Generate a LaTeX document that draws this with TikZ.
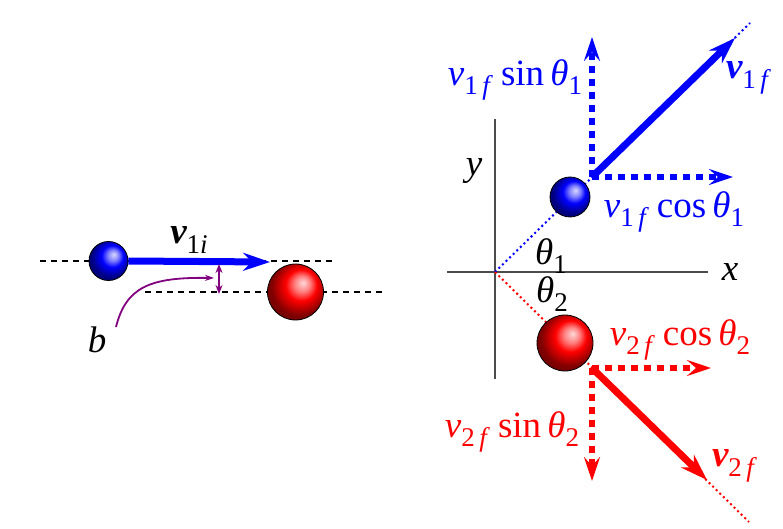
\documentclass[tikz,border=0pt]{standalone}
\usepackage{xcolor}
\usepackage{fontspec}
\setmainfont{Liberation Serif}
\usetikzlibrary{arrows.meta}
\definecolor{impact}{rgb}{.5,0,.5}
\pgfdeclareradialshading{blueball}{\pgfpoint{7bp}{8.5bp}}{color(0bp)=(white!85!blue); color(7bp)=(blue!50!white); color(14bp)=(blue); color(25bp)=(blue!50!black); color(35bp)=(blue!40!black); color(50bp)=(blue!40!black)}
\pgfdeclareradialshading{redball}{\pgfpoint{7bp}{8.5bp}}{color(0bp)=(white!85!red); color(7bp)=(red!50!white); color(14bp)=(red); color(25bp)=(red!50!black); color(35bp)=(red!40!black); color(50bp)=(red!40!black)}
\newcommand{\subs}[1]{\raisebox{-.26em}{\fontsize{27}{27}\selectfont #1}}
\newcommand{\vel}[1]{{\itshape v}\subs{#1}}
\newcommand{\bvel}[1]{{\bfseries\itshape v}\subs{#1}}
\newcommand{\tht}[1]{{\itshape θ}\subs{#1}}
\tikzset{
    lab/.style={inner sep=0pt,font=\fontsize{37}{37}\selectfont},
    sball/.style={circle,draw=black,line width=.8pt,inner sep=0pt,minimum size=39pt},
    lball/.style={circle,draw=black,line width=.8pt,inner sep=0pt,minimum size=56pt},
    guide/.style={dash pattern=on 6pt off 5pt,line width=2pt},
    track/.style={line width=2pt,dash pattern=on 2pt off 3pt},
    solid arrow/.style={line width=7pt,-{Stealth[length=27pt,width=18pt,inset=9pt]}},
    part arrow/.style={line width=6pt,dash pattern=on 7pt off 6pt,-{Stealth[length=24pt,width=16pt,inset=9pt]}},
}
\begin{document}
\begin{tikzpicture}[x=1pt,y=-1pt]
            \useasboundingbox (0,0) rectangle (783,529);
            % before the collision
            \coordinate (guideaL) at (40,261);
            \coordinate (guideaR) at (334,261);
            \coordinate (guidebL) at (145,291.5);
            \coordinate (guidebR) at (382,291.5);
            \coordinate (vtip) at (270,262);
            \coordinate (curveS) at (116,327);
            \coordinate (curveE) at (214,278);
            \coordinate (gapT) at (219,264);
            \coordinate (gapB) at (219,294);
            \draw[guide] (guideaL) -- (guideaR);
            \draw[guide] (guidebL) -- (guidebR);
            \node[sball,shading=blueball] (blueL) at (108.5,261) {};
            \node[lball,shading=redball] (redL) at (295.5,292) {};
            \coordinate (vstart) at (blueL.east);
            \draw[blue,solid arrow] (vstart) -- (vtip);
            \draw[impact,line width=1.8pt,-{Stealth[length=9pt,width=6pt]}] (curveS) .. controls (126,287) and (150,277) .. (curveE);
            \draw[impact,line width=1.8pt,{Stealth[length=9pt,width=7pt]}-{Stealth[length=9pt,width=7pt]}] (gapT) -- (gapB);
            \node[lab] (vi) at (189,240) {\bvel{1{\itshape i}}};
            \node[lab] (bimp) at (97,340) {\itshape b};
            % after the collision
            \coordinate (orig) at (495,272);
            \coordinate (xL) at (447,272);
            \coordinate (xR) at (708,272);
            \coordinate (yT) at (495,119);
            \coordinate (yB) at (495,379);
            \coordinate (blueO) at (750,23);
            \coordinate (redO) at (749,522);
            \coordinate (blueS) at (592,177);
            \coordinate (redS) at (592,368);
            \coordinate (bluefT) at (735,38);
            \coordinate (redfT) at (707,480);
            \draw[black!70,line width=1.3pt] (xL) -- (xR);
            \draw[black!70,line width=1.3pt] (yT) -- (yB);
            \draw[blue,track] (orig) -- (blueO);
            \draw[red,track] (orig) -- (redO);
            \node[sball,shading=blueball,minimum size=40pt] (blueR) at (570,197) {};
            \node[lball,shading=redball] (redR) at (565,343) {};
            \draw[blue,solid arrow] (blueS) -- (bluefT);
            \draw[red,solid arrow] (redS) -- (redfT);
            \coordinate (bluesT) at (592,37);
            \coordinate (bluecT) at (733,177);
            \coordinate (redcT) at (711,368);
            \coordinate (redsT) at (592,481);
            \draw[blue,part arrow] (blueS) -- (bluesT);
            \draw[blue,part arrow] (blueS) -- (bluecT);
            \draw[red,part arrow] (redS) -- (redcT);
            \draw[red,part arrow] (redS) -- (redsT);
            \node[lab] (ylab) at (474,171) {\itshape y};
            \node[lab] (xlab) at (730,272) {\itshape x};
            \node[lab] (th1) at (551,256) {\tht{1}};
            \node[lab] (th2) at (552,294) {\tht{2}};
            \node[lab,blue] (vs1) at (515,80) {\vel{1\,{\itshape f}}\hspace{.3em}sin\,\tht{1}};
            \node[lab,blue] (vf1) at (747,78) {\bvel{1\,{\itshape f}}};
            \node[lab,blue] (vc1) at (674,212) {\vel{1\,{\itshape f}}\hspace{.3em}cos\,\tht{1}};
            \node[lab,red] (vc2) at (680,340) {\vel{2\,{\itshape f}}\hspace{.3em}cos\,\tht{2}};
            \node[lab,red] (vs2) at (512,432) {\vel{2\,{\itshape f}}\hspace{.3em}sin\,\tht{2}};
            \node[lab,red] (vf2) at (733,466) {\bvel{2\,{\itshape f}}};
        \end{tikzpicture}
\end{document}
